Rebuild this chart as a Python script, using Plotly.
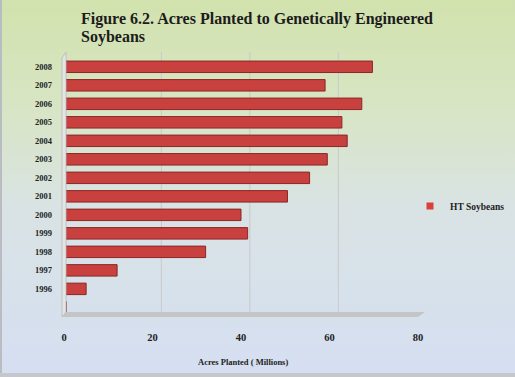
import base64
import plotly.graph_objects as go

# ---- data ----
years = ["", "1996", "1997", "1998", "1999", "2000", "2001", "2002",
         "2003", "2004", "2005", "2006", "2007", "2008"]
ht_soybeans = [0.5, 5.0, 12.0, 32.0, 41.5, 40.0, 50.5, 55.5,
               59.5, 64.0, 62.8, 67.3, 59.0, 69.7]
x_ticks = [0, 20, 40, 60, 80]
series_name = "HT Soybeans"
title_lines = ["Figure 6.2. Acres Planted to Genetically Engineered", "Soybeans"]
x_title = "Acres Planted ( Millions)"

# ---- geometry / style ----
W, H = 515, 377
L, R, T, B = 64, 89, 52, 65
PW, PH = W - L - R, H - T - B
FONT = "Liberation Serif"
BAR = "#c8413f"
BAR_EDGE = "#8a2726"
DEPTH = 2  # back-wall offset of the gridlines, in axis units


def px(xp):
    return (xp - L) / PW


def py(yp):
    return (H - B - yp) / PH


ypos = list(range(len(years)))

svg = f'''<svg xmlns="http://www.w3.org/2000/svg" width="{W}" height="{H}">
<defs><linearGradient id="g" x1="0" y1="0" x2="0" y2="1">
<stop offset="0" stop-color="#d2e2ad"/>
<stop offset="0.3" stop-color="#d8e5c6"/>
<stop offset="0.55" stop-color="#d9e3e4"/>
<stop offset="1" stop-color="#d5dff2"/>
</linearGradient></defs>
<rect width="{W}" height="{H}" fill="url(#g)"/>
<rect x="0" y="0" width="2" height="{H}" fill="#b9bcc0"/>
<rect x="0" y="{H-4}" width="{W}" height="4" fill="#c4c7cc"/>
</svg>'''
src = "data:image/svg+xml;base64," + base64.b64encode(svg.encode()).decode()

fig = go.Figure()
fig.add_trace(go.Bar(
    x=ht_soybeans, y=ypos, orientation="h", width=0.62,
    marker=dict(color=BAR, line=dict(color=BAR_EDGE, width=1)),
    name=series_name, showlegend=False,
))
# legend entry
fig.add_trace(go.Scatter(
    x=[None], y=[None], mode="markers", name=series_name,
    marker=dict(symbol="square", size=7, color="#d9403a"),
))

shapes = []
for t in x_ticks[1:]:
    shapes.append(dict(type="line", xref="x", yref="y domain",
                       x0=t + DEPTH, x1=t + DEPTH, y0=0, y1=1,
                       line=dict(color="#c9c9c9", width=1), layer="below"))
# floor
shapes.append(dict(type="path", xref="paper", yref="paper",
                   path=f"M{px(62)},{py(317)} L{px(418)},{py(317)} L{px(425)},{py(312)} L{px(66)},{py(312)} Z",
                   fillcolor="#c5c5c5", line=dict(width=0)))
# left wall
shapes.append(dict(type="path", xref="paper", yref="paper",
                   path=f"M{px(62)},{py(317)} L{px(62)},{py(58)} L{px(66)},{py(52)} L{px(66)},{py(312)} Z",
                   fillcolor="#e4e6e6", line=dict(color="#b5b8b8", width=0.8)))

annotations = [
    dict(text=title_lines[0], xref="paper", yref="paper", x=px(79), y=py(18.5),
         xanchor="left", yanchor="middle", showarrow=False,
         font=dict(family=FONT, size=16, color="#1c1c1c", weight="bold")),
    dict(text=title_lines[1], xref="paper", yref="paper", x=px(79), y=py(36.5),
         xanchor="left", yanchor="middle", showarrow=False,
         font=dict(family=FONT, size=16, color="#1c1c1c", weight="bold")),
    dict(text=x_title, xref="paper", yref="paper", x=px(243), y=py(362),
         xanchor="center", yanchor="middle", showarrow=False,
         font=dict(family=FONT, size=8.5, color="#222222", weight="bold")),
]

fig.update_layout(
    width=W, height=H,
    margin=dict(l=L, r=R, t=T, b=B, pad=0, autoexpand=False),
    paper_bgcolor="#d8e3dc", plot_bgcolor="white",
    images=[dict(source=src, xref="paper", yref="paper",
                 x=-L / PW, y=1 + T / PH, sizex=W / PW, sizey=H / PH,
                 sizing="stretch", xanchor="left", yanchor="top", layer="below")],
    shapes=shapes, annotations=annotations,
    bargap=0.38,
    showlegend=True,
    legend=dict(x=px(410), y=py(206), xanchor="left", yanchor="middle",
                bgcolor="rgba(0,0,0,0)", borderwidth=0,
                font=dict(family=FONT, size=9.5, color="#222222", weight="bold")),
    xaxis=dict(domain=[0, (418 - L) / PW], range=[0, 80], tickvals=x_ticks,
               showgrid=False, zeroline=False, showline=False, ticks="",
               ticklabelstandoff=17, automargin=False,
               tickfont=dict(family=FONT, size=10.5, color="#222222", weight="bold")),
    yaxis=dict(range=[-0.25, 13.8], tickvals=ypos, ticktext=years,
               showgrid=False, zeroline=False, showline=False, ticks="",
               ticklabelstandoff=11, automargin=False,
               tickfont=dict(family=FONT, size=8.5, color="#222222", weight="bold")),
)

fig.write_html("out.html",
               config={"displayModeBar": False},
               post_script="document.body.style.margin='0';document.body.style.overflow='hidden';")
